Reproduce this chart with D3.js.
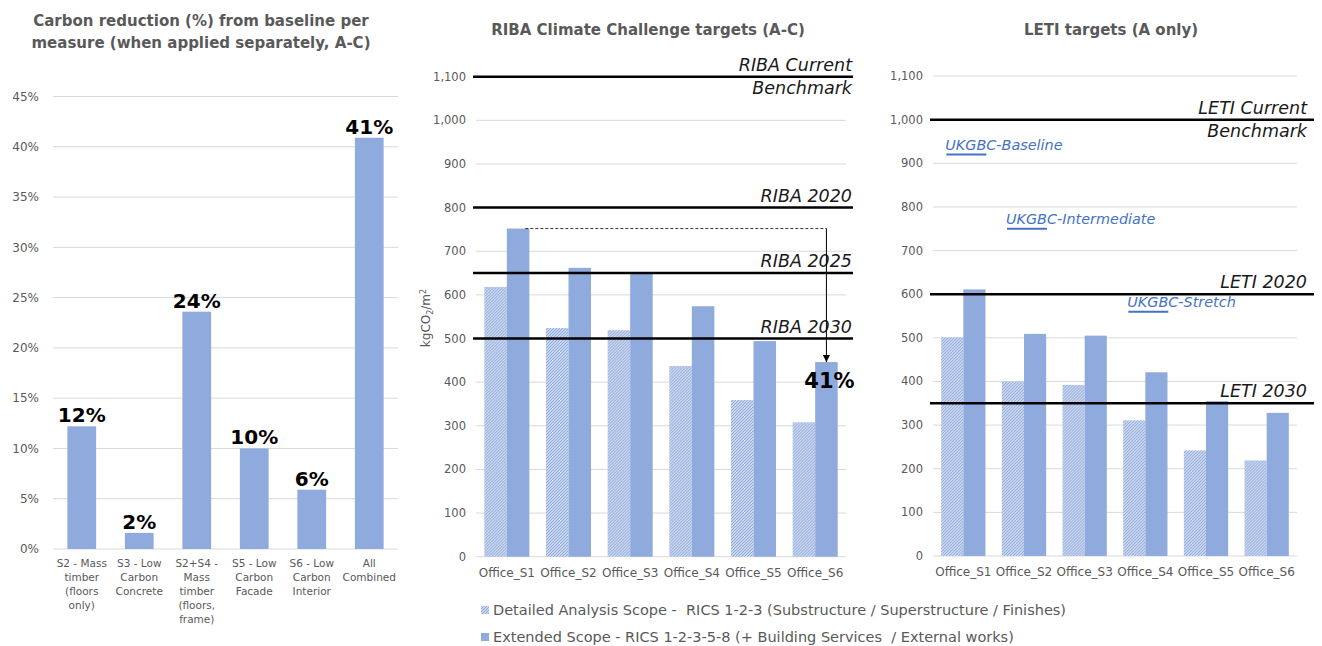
<!DOCTYPE html>
<html>
<head>
	<meta charset="utf-8">
	<title></title>
	<script src="https://d3js.org/d3.v7.min.js"></script>
	<style>
		body { margin: 0; background: #fff; }
		text { font-family: "DejaVu Sans", sans-serif; white-space: pre; }
	</style>
</head>
<body>

<script>

// ---- data ----
var measureLabels = [
	["S2 - Mass", "timber", "(floors", "only)"],
	["S3 - Low", "Carbon", "Concrete"],
	["S2+S4 -", "Mass", "timber", "(floors,", "frame)"],
	["S5 - Low", "Carbon", "Facade"],
	["S6 - Low", "Carbon", "Interior"],
	["All", "Combined"]
]
var measureReduction = [12.2, 1.6, 23.6, 10.0, 5.9, 40.9]
var pctTicks = [0, 5, 10, 15, 20, 25, 30, 35, 40, 45]

var offices = ["Office_S1", "Office_S2", "Office_S3", "Office_S4", "Office_S5", "Office_S6"]
var ribaDetailed = [618, 524, 519, 437, 359, 308]
var ribaExtended = [752, 662, 652, 574, 494, 446]
var letiDetailed = [501, 400, 392, 311, 242, 219]
var letiExtended = [611, 509, 505, 421, 355, 328]
var kgTicks = [0, 100, 200, 300, 400, 500, 600, 700, 800, 900, 1000, 1100]

var ribaTargetNames = [["RIBA Current", "Benchmark"], ["RIBA 2020"], ["RIBA 2025"], ["RIBA 2030"]]
var ribaTargetValues = [1100, 800, 650, 500]
var letiTargetNames = [["LETI Current", "Benchmark"], ["LETI 2020"], ["LETI 2030"]]
var letiTargetValues = [1000, 600, 350]

var ukgbcNames = ["UKGBC-Baseline", "UKGBC-Intermediate", "UKGBC-Stretch"]
var ukgbcValues = [920, 750, 560]
var ukgbcAt = ["Office_S1", "Office_S2", "Office_S4"]

var seriesNames = [
	"Detailed Analysis Scope -  RICS 1-2-3 (Substructure / Superstructure / Finishes)",
	"Extended Scope - RICS 1-2-3-5-8 (+ Building Services  / External works)"
]

// ---- setup ----
var width = 1322
var height = 646
var barColor = "#8faadc"
var grey = "#595959"
var gridColor = "#d9d9d9"

var svg = d3.select("body").append("svg")
	.attr("width", width)
	.attr("height", height)

svg.append("rect").attr("width", width).attr("height", height).attr("fill", "#fff")

var defs = svg.append("defs")
var pat = defs.append("pattern")
	.attr("id", "hatch")
	.attr("patternUnits", "userSpaceOnUse")
	.attr("width", 3)
	.attr("height", 3)
pat.append("rect").attr("width", 3).attr("height", 3).attr("fill", "#fff")
pat.append("path")
	.attr("d", "M-1,1 l2,-2 M0,3 l3,-3 M2,4 l2,-2")
	.attr("stroke", barColor)
	.attr("stroke-width", 1.4)

function title(lines, cx, y0) {
	var t = svg.append("text")
		.attr("text-anchor", "middle")
		.attr("font-weight", "bold")
		.attr("font-size", 15)
		.attr("fill", grey)
	lines.forEach(function(l, i) {
		t.append("tspan").attr("x", cx).attr("y", y0 + i * 22).text(l)
	})
}

function grid(g, y, ticks, x0, x1, fmt, labelX, fs) {
	g.selectAll(".grid").data(ticks).enter().append("line")
		.attr("x1", x0).attr("x2", x1)
		.attr("y1", function(d) { return y(d) }).attr("y2", function(d) { return y(d) })
		.attr("stroke", gridColor).attr("stroke-width", 1)
	g.selectAll(".tick").data(ticks).enter().append("text")
		.attr("x", labelX)
		.attr("y", function(d) { return y(d) })
		.attr("dy", "0.35em")
		.attr("text-anchor", "end")
		.attr("font-size", fs)
		.attr("fill", grey)
		.text(fmt)
}

// ---- left chart ----
title(["Carbon reduction (%) from baseline per", "measure (when applied separately, A-C)"], 201, 26)

var g1 = svg.append("g")
var x1 = d3.scaleBand().domain(d3.range(measureLabels.length)).range([53, 398]).paddingInner(0.5).paddingOuter(0.25)
var y1 = d3.scaleLinear().domain([0, 45]).range([549, 96.5])

grid(g1, y1, pctTicks, 53, 398, function(d) { return d + "%" }, 39, 12)

g1.selectAll(".bar").data(measureReduction).enter().append("rect")
	.attr("x", function(d, i) { return x1(i) })
	.attr("y", function(d) { return y1(d) })
	.attr("width", x1.bandwidth())
	.attr("height", function(d) { return y1(0) - y1(d) })
	.attr("fill", barColor)

g1.selectAll(".val").data(measureReduction).enter().append("text")
	.attr("x", function(d, i) { return x1(i) + x1.bandwidth() / 2 })
	.attr("y", function(d) { return y1(d) - 4 })
	.attr("text-anchor", "middle")
	.attr("font-weight", "bold")
	.attr("font-size", 20)
	.attr("fill", "#000")
	.text(function(d) { return Math.round(d) + "%" })

g1.selectAll(".cat").data(measureLabels).enter().append("text")
	.attr("text-anchor", "middle")
	.attr("font-size", 10.5)
	.attr("fill", grey)
	.each(function(lines, i) {
		var t = d3.select(this)
		lines.forEach(function(l, j) {
			t.append("tspan")
				.attr("x", x1(i) + x1.bandwidth() / 2)
				.attr("y", 567 + j * 14)
				.text(l)
		})
	})

// ---- grouped charts ----
function groupedChart(opts) {
	var g = svg.append("g")
	var x = d3.scaleBand().domain(offices).range([opts.x0, opts.x1]).paddingInner(0.27).paddingOuter(0.135)
	var xs = d3.scaleBand().domain([0, 1]).range([0, x.bandwidth()])
	var y = d3.scaleLinear().domain([0, 1100]).range([opts.yBottom, opts.yTop])

	grid(g, y, kgTicks, opts.x0, opts.x1, d3.format(","), opts.x0 - 10, 11.5)

	var rows = offices.map(function(o, i) { return [opts.detailed[i], opts.extended[i]] })
	var grp = g.selectAll(".grp").data(rows).enter().append("g")
		.attr("transform", function(d, i) { return "translate(" + x(offices[i]) + ",0)" })
	grp.selectAll("rect").data(function(d) { return d }).enter().append("rect")
		.attr("x", function(d, j) { return xs(j) })
		.attr("y", function(d) { return y(d) })
		.attr("width", xs.bandwidth())
		.attr("height", function(d) { return y(0) - y(d) })
		.attr("fill", function(d, j) { return j == 0 ? "url(#hatch)" : barColor })

	g.selectAll(".xl").data(offices).enter().append("text")
		.attr("x", function(d) { return x(d) + x.bandwidth() / 2 })
		.attr("y", opts.yBottom + 20)
		.attr("text-anchor", "middle")
		.attr("font-size", 12)
		.attr("fill", grey)
		.text(function(d) { return d })

	// target lines
	opts.targetValues.forEach(function(v, i) {
		g.append("line")
			.attr("x1", opts.x0 - 3).attr("x2", opts.lineEnd)
			.attr("y1", y(v)).attr("y2", y(v))
			.attr("stroke", "#000").attr("stroke-width", 2.5)
		var names = opts.targetNames[i]
		names.forEach(function(n, j) {
			g.append("text")
				.attr("x", opts.labelEnd)
				.attr("y", y(v) - 6 + j * 23)
				.attr("text-anchor", "end")
				.attr("font-style", "italic")
				.attr("font-size", 17.5)
				.attr("fill", "#1a1a1a")
				.text(n)
		})
	})
	return {g: g, x: x, xs: xs, y: y}
}

title(["RIBA Climate Challenge targets (A-C)"], 648, 35)
var riba = groupedChart({
	x0: 476, x1: 846, yTop: 76.7, yBottom: 556.7,
	detailed: ribaDetailed, extended: ribaExtended,
	targetNames: ribaTargetNames, targetValues: ribaTargetValues,
	lineEnd: 853, labelEnd: 852
})

// y axis title
svg.append("text")
	.attr("transform", "translate(430,318) rotate(-90)")
	.attr("text-anchor", "middle")
	.attr("font-size", 12)
	.attr("fill", grey)
	.html('kgCO<tspan font-size="8" dy="3">2</tspan><tspan dy="-3">/m</tspan><tspan font-size="8" dy="-4">2</tspan>')

// reduction arrow S1 -> S6
var startX = riba.x("Office_S1") + riba.xs(1) + riba.xs.bandwidth() - 4
var endX = riba.x("Office_S6") + riba.xs(1) + riba.xs.bandwidth() / 2
var topY = riba.y(ribaExtended[0])
var endY = riba.y(ribaExtended[5])
defs.append("marker")
	.attr("id", "arrow")
	.attr("viewBox", "0 0 10 10")
	.attr("refX", 10).attr("refY", 5)
	.attr("markerWidth", 7).attr("markerHeight", 7)
	.attr("orient", "auto")
	.append("path").attr("d", "M0,0 L10,5 L0,10 z").attr("fill", "#000")
riba.g.append("line")
	.attr("x1", startX).attr("x2", endX).attr("y1", topY).attr("y2", topY)
	.attr("stroke", "#000").attr("stroke-width", 0.8).attr("stroke-dasharray", "3,2")
riba.g.append("line")
	.attr("x1", endX).attr("x2", endX).attr("y1", topY).attr("y2", endY)
	.attr("stroke", "#000").attr("stroke-width", 1)
	.attr("marker-end", "url(#arrow)")
riba.g.append("text")
	.attr("x", endX + 3)
	.attr("y", endY + 26)
	.attr("text-anchor", "middle")
	.attr("font-weight", "bold")
	.attr("font-size", 21)
	.attr("fill", "#000")
	.text(d3.format(".0%")(1 - ribaExtended[5] / ribaExtended[0]))

title(["LETI targets (A only)"], 1111, 35)
var leti = groupedChart({
	x0: 933, x1: 1297, yTop: 76, yBottom: 556,
	detailed: letiDetailed, extended: letiExtended,
	targetNames: letiTargetNames, targetValues: letiTargetValues,
	lineEnd: 1314, labelEnd: 1307
})

// UKGBC markers
var ukColor = "#4472c4"
ukgbcValues.forEach(function(v, i) {
	var cx = leti.x(ukgbcAt[i]) + leti.x.bandwidth() / 2 + 3
	leti.g.append("line")
		.attr("x1", cx - 20).attr("x2", cx + 20)
		.attr("y1", leti.y(v)).attr("y2", leti.y(v))
		.attr("stroke", ukColor).attr("stroke-width", 2)
	leti.g.append("text")
		.attr("x", cx - 21)
		.attr("y", leti.y(v) - 5)
		.attr("font-style", "italic")
		.attr("font-size", 14.4)
		.attr("fill", ukColor)
		.text(ukgbcNames[i])
})

// legend
var leg = svg.append("g").attr("transform", "translate(481,0)")
seriesNames.forEach(function(n, i) {
	var yy = 610 + i * 27
	leg.append("rect")
		.attr("x", 0).attr("y", yy - 4).attr("width", 8).attr("height", 8)
		.attr("fill", i == 0 ? "url(#hatch)" : barColor)
	leg.append("text")
		.attr("x", 12).attr("y", yy).attr("dy", "0.35em")
		.attr("font-size", 14.5)
		.attr("fill", grey)
		.text(n)
})

</script>

</body>
</html>
